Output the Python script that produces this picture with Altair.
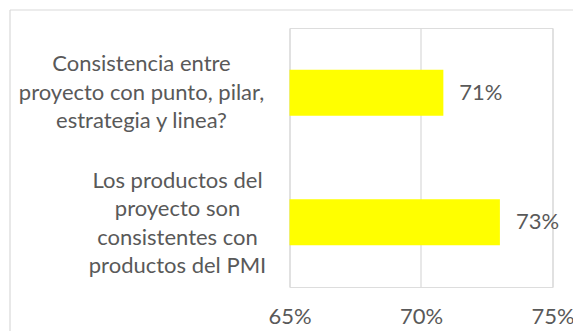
import altair as alt
import pandas as pd

categories = [
    "Consistencia entre\nproyecto con punto, pilar,\nestrategia y linea?",
    "Los productos del\nproyecto son\nconsistentes con\nproductos del PMI",
]
values = [0.7085, 0.73]
tick_values = [0.65, 0.70, 0.75]
x_domain = [0.65, 0.75]

df = pd.DataFrame({"cat": categories, "val": values})

FONT = "Lato"
GREY = "#595959"
GRID = "#d9d9d9"
FS = 22
LH = 28.5

is_first = "indexof(datum.value, 'Consistencia') == 0"

y_enc = alt.Y(
    "cat:N", sort=None, title=None,
    scale=alt.Scale(paddingInner=0, paddingOuter=0),
    axis=alt.Axis(
        domain=False, ticks=False, grid=False,
        labelFont=FONT, labelFontSize=FS, labelColor=GREY,
        labelAlign="center", labelBaseline="middle", labelLineHeight=LH,
        labelExpr="split(datum.label, '\\n')",
        labelPadding={"condition": {"test": is_first, "value": 148.5}, "value": 112.5},
        labelOffset={"condition": {"test": is_first, "value": -LH}, "value": -1.45 * LH},
        labelLimit=400,
    ),
)
x_enc = alt.X(
    "val:Q", title=None,
    scale=alt.Scale(domain=x_domain, zero=False, nice=False),
    axis=alt.Axis(
        values=tick_values, format=".0%", domain=False, ticks=False,
        grid=True, gridColor=GRID, gridWidth=1.2, labelFlush=False,
        labelFont=FONT, labelFontSize=FS, labelColor=GREY, labelPadding=19,
    ),
)

base = alt.Chart(df)
bars = base.mark_bar(color="#ffff00", size=46, clip=True).encode(x=x_enc, y=y_enc)
labels = base.mark_text(align="left", baseline="middle", dx=16, font=FONT, fontSize=FS, color=GREY).encode(
    x=alt.X("val:Q"), y=alt.Y("cat:N", sort=None), text=alt.Text("val:Q", format=".0%")
)

frame = alt.Data(values=[{"k": 1}])
border_top = alt.Chart(frame).mark_rule(color=GRID, strokeWidth=1.2).encode(
    x=alt.value(-279.5), x2=alt.value(320), y=alt.value(-18)
)
border_left = alt.Chart(frame).mark_rule(color=GRID, strokeWidth=1.2).encode(
    x=alt.value(-279.5), y=alt.value(-18), y2=alt.value(330)
)

chart = alt.layer(border_top, border_left, bars, labels).properties(
    width=263, height=259,
    autosize=alt.AutoSizeParams(type="none"),
    padding={"left": 289.5, "top": 28, "right": 20.5, "bottom": 44},
).configure_view(strokeWidth=0).configure(background="white")

chart.save("out.html", embed_options={"renderer": "svg", "actions": False})
